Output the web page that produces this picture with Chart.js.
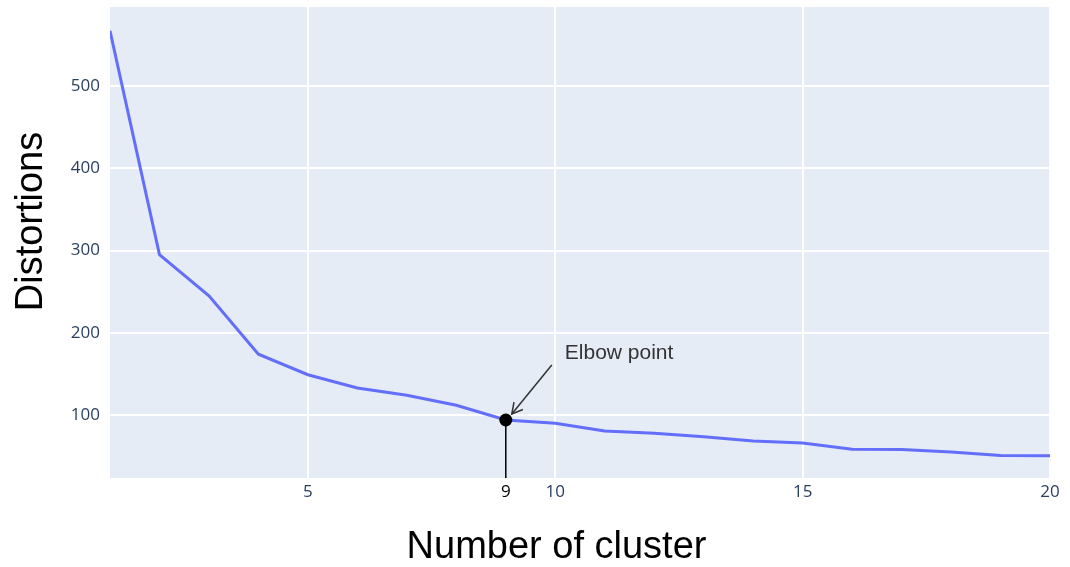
<!DOCTYPE html>
<html><head><meta charset="utf-8">
<script src="https://cdn.jsdelivr.net/npm/chart.js@4/dist/chart.umd.min.js"></script>
<style>html,body{margin:0;padding:0;background:#fff}canvas{display:block}</style>
</head><body>
<div style="width:1070px;height:567px"><canvas id="c" width="1070" height="567"></canvas></div>
<script>
const clusters = [1, 2, 3, 4, 5, 6, 7, 8, 9, 10, 11, 12, 13, 14, 15, 16, 17, 18, 19, 20];
const distortions = [567, 295, 245, 174, 149, 133, 124, 112, 94, 90, 80.5, 78, 73.5, 68.5, 66, 58.5, 58, 55, 51, 50.5];
const elbowCluster = 9;
const elbowDistortion = 94;
const xTicks = [5, 9, 10, 15, 20];
const yTicks = [100, 200, 300, 400, 500];
const xRange = [1, 20];
const yRange = [23.5, 596];
const xTitle = 'Number of cluster';
const yTitle = 'Distortions';
const elbowLabel = 'Elbow point';

const bgPlugin = {
  id: 'bg',
  beforeDraw(chart) {
    const a = chart.chartArea, ctx = chart.ctx;
    ctx.save();
    ctx.fillStyle = '#E5ECF6';
    ctx.fillRect(a.left, a.top, a.right - a.left, a.bottom - a.top);
    ctx.restore();
  }
};

const annPlugin = {
  id: 'ann',
  afterDatasetsDraw(chart) {
    const ctx = chart.ctx;
    const px = chart.scales.x.getPixelForValue(elbowCluster);
    const py = chart.scales.y.getPixelForValue(elbowDistortion);
    const hx = px + 6, hy = py - 6;
    const tx = px + 46, ty = py - 55;
    ctx.save();
    ctx.strokeStyle = '#333';
    ctx.lineWidth = 1.5;
    ctx.beginPath();
    ctx.moveTo(tx, ty);
    ctx.lineTo(hx, hy);
    ctx.stroke();
    const ang = Math.atan2(hy - ty, hx - tx);
    const L = 12, sp = 0.5;
    ctx.beginPath();
    ctx.moveTo(hx - L * Math.cos(ang - sp), hy - L * Math.sin(ang - sp));
    ctx.lineTo(hx, hy);
    ctx.lineTo(hx - L * Math.cos(ang + sp), hy - L * Math.sin(ang + sp));
    ctx.stroke();
    ctx.fillStyle = '#333';
    ctx.font = '21px "Liberation Sans", Arial, sans-serif';
    ctx.textAlign = 'left';
    ctx.textBaseline = 'alphabetic';
    ctx.fillText(elbowLabel, px + 59, py - 61);
    ctx.restore();
  },
  afterDraw(chart) {
    const ctx = chart.ctx;
    ctx.save();
    ctx.fillStyle = '#000';
    ctx.font = '38px "Liberation Sans", Arial, sans-serif';
    ctx.textAlign = 'center';
    ctx.textBaseline = 'alphabetic';
    ctx.fillText(xTitle, 556.5, 558);
    ctx.translate(42, 221.5);
    ctx.rotate(-Math.PI / 2);
    ctx.fillText(yTitle, 0, 0);
    ctx.restore();
  }
};

new Chart(document.getElementById('c'), {
  type: 'line',
  data: {
    datasets: [
      {
        data: [{x: elbowCluster, y: elbowDistortion}],
        showLine: false,
        pointRadius: 6.5,
        pointBackgroundColor: '#000',
        pointBorderColor: '#000',
        pointBorderWidth: 0,
        order: 0
      },
      {
        data: [{x: elbowCluster, y: elbowDistortion}, {x: elbowCluster, y: yRange[0]}],
        borderColor: '#000',
        borderWidth: 1.5,
        pointRadius: 0,
        order: 1
      },
      {
        data: clusters.map((c, i) => ({x: c, y: distortions[i]})),
        borderColor: '#636efa',
        borderWidth: 3,
        pointRadius: 0,
        tension: 0,
        order: 2
      }
    ]
  },
  options: {
    responsive: false,
    animation: false,
    events: [],
    layout: {padding: {top: 7, right: 20, left: 0, bottom: 0}},
    plugins: {legend: {display: false}, tooltip: {enabled: false}, title: {display: false}},
    scales: {
      x: {
        type: 'linear',
        min: xRange[0], max: xRange[1],
        afterBuildTicks(s) { s.ticks = xTicks.map(v => ({value: v})); },
        afterFit(s) { s.height = 89; s.paddingLeft = 0; s.paddingRight = 0; },
        grid: {
          color: c => (c.tick && c.tick.value === elbowCluster) ? 'rgba(0,0,0,0)' : '#ffffff',
          lineWidth: 2, drawTicks: false
        },
        border: {display: false},
        ticks: {
          autoSkip: false, maxRotation: 0, padding: 4,
          color: c => (c.tick && c.tick.value === elbowCluster) ? '#000' : '#2a3f5f',
          font: {family: '"Open Sans", sans-serif', size: 17},
          callback: v => String(v)
        }
      },
      y: {
        type: 'linear',
        min: yRange[0], max: yRange[1],
        afterBuildTicks(s) { s.ticks = yTicks.map(v => ({value: v})); },
        afterFit(s) { s.width = 110; s.paddingTop = 0; s.paddingBottom = 0; },
        grid: {color: '#ffffff', lineWidth: 2, drawTicks: false},
        border: {display: false},
        ticks: {
          padding: 10,
          color: '#2a3f5f',
          font: {family: '"Open Sans", sans-serif', size: 17},
          callback: v => String(v)
        }
      }
    }
  },
  plugins: [bgPlugin, annPlugin]
});
</script>
</body></html>
